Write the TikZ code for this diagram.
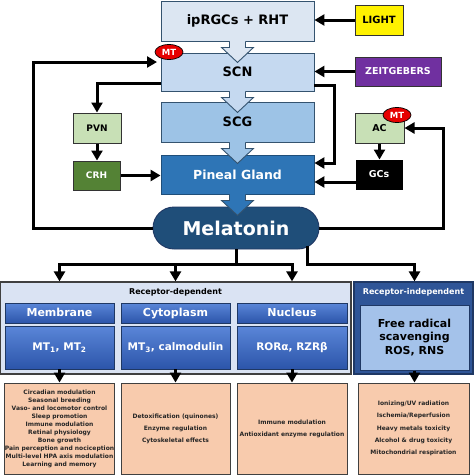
\documentclass[tikz,border=0pt]{standalone}
\usepackage{fontspec}
\setmainfont{DejaVu Sans}
\usetikzlibrary{arrows.meta,calc,shapes.geometric}
\definecolor{ipfill}{HTML}{DCE6F2}
\definecolor{scnfill}{HTML}{C5D9F0}
\definecolor{scgfill}{HTML}{9DC3E6}
\definecolor{pinfill}{HTML}{2E75B6}
\definecolor{melfill}{HTML}{1F4E79}
\definecolor{bxline}{HTML}{34536F}
\definecolor{lgreen}{HTML}{C8E0B6}
\definecolor{dgreen}{HTML}{548235}
\definecolor{mtred}{HTML}{E60000}
\definecolor{zpurple}{HTML}{7030A0}
\definecolor{orfill}{HTML}{F8CBAD}
\definecolor{rdfill}{HTML}{DAE3F3}
\definecolor{rifill}{HTML}{2F5597}
\definecolor{riline}{HTML}{1F3864}
\definecolor{frfill}{HTML}{A4C2EA}
\definecolor{hdtop}{HTML}{5A86D8}
\definecolor{hdbot}{HTML}{2C55AA}
\definecolor{txtdark}{HTML}{262626}
\newcommand\blkarrow[3]{%
  \fill[#2] ($(#1.south)+(-#3,-1)$) -- ($(#1.south)+(-#3,6)$) -- ($(#1.south)+(-16,6)$) -- ($(#1.south)+(0,21)$) -- ($(#1.south)+(16,6)$) -- ($(#1.south)+(#3,6)$) -- ($(#1.south)+(#3,-1)$) -- cycle;
  \draw[bxline,line width=0.9pt,line join=miter] ($(#1.south)+(-#3,0)$) -- ($(#1.south)+(-#3,6)$) -- ($(#1.south)+(-16,6)$) -- ($(#1.south)+(0,21)$) -- ($(#1.south)+(16,6)$) -- ($(#1.south)+(#3,6)$) -- ($(#1.south)+(#3,0)$);}
\begin{document}
\begin{tikzpicture}[x=1pt,y=-1pt,font=\bfseries,
  bx/.style={draw=bxline,line width=0.9pt,inner sep=0pt,align=center},
  conn/.style={line width=3pt,-{Triangle[length=10pt,width=11pt]}},
  plain/.style={line width=3pt},
  mtell/.style={ellipse,draw=black,line width=0.7pt,fill=mtred,text=white,inner sep=0pt,minimum width=28,minimum height=15,font=\bfseries\fontsize{8.5}{8.5}\selectfont},
  hdr/.style={draw=riline,line width=0.8pt,top color=hdtop,bottom color=hdbot,text=white,inner sep=0pt,minimum height=20,text height=8pt,text depth=2pt,font=\bfseries\fontsize{11}{11}\selectfont},
  bdy/.style={draw=riline,line width=0.8pt,top color=hdtop,bottom color=hdbot,text=white,inner sep=0pt,minimum height=43,font=\bfseries\fontsize{10.5}{10.5}\selectfont},
  orbox/.style={draw=black!75,line width=1pt,fill=orfill,text=txtdark,inner sep=0pt,minimum height=91,align=center}]
\useasboundingbox (0,0) rectangle (474,475);
\fill[white] (0,0) rectangle (474,475);
% --- top column
\node[bx,fill=ipfill,minimum width=153,minimum height=40,font=\bfseries\fontsize{13}{13}\selectfont] (ip) at (237.5,21) {ipRGCs + RHT};
\node[bx,fill=scnfill,minimum width=153,minimum height=38,font=\bfseries\fontsize{13}{13}\selectfont] (scn) at (237.5,72) {SCN};
\node[bx,fill=scgfill,minimum width=153,minimum height=40,font=\bfseries\fontsize{13}{13}\selectfont] (scg) at (237.5,122) {SCG};
\node[bx,fill=pinfill,draw=melfill,text=white,minimum width=153,minimum height=39,font=\bfseries\fontsize{12.5}{12.5}\selectfont] (pin) at (237.5,174.5) {Pineal Gland};
\node[bx,fill=melfill,draw=riline,text=white,minimum width=166,minimum height=42,rounded corners=21pt,font=\bfseries\fontsize{19}{19}\selectfont] (mel) at (236,228) {Melatonin};
% --- side boxes
\node[draw=black!80,line width=1pt,fill=yellow,inner sep=0pt,minimum width=48,minimum height=30,font=\bfseries\fontsize{10}{10}\selectfont] (light) at (379,20) {LIGHT};
\node[draw=black!80,line width=1pt,fill=zpurple,text=white,inner sep=0pt,minimum width=86,minimum height=29,font=\bfseries\fontsize{9.5}{9.5}\selectfont] (zeit) at (398,71.5) {ZEITGEBERS};
\node[draw=black!80,line width=1pt,fill=lgreen,inner sep=0pt,minimum width=48,minimum height=30,font=\bfseries\fontsize{9}{9}\selectfont] (pvn) at (97,128) {PVN};
\node[draw=black!80,line width=1pt,fill=dgreen,text=white,inner sep=0pt,minimum width=47,minimum height=29,font=\bfseries\fontsize{9}{9}\selectfont] (crh) at (96.5,175.5) {CRH};
\node[draw=black!80,line width=1pt,fill=lgreen,inner sep=0pt,minimum width=49,minimum height=30,font=\bfseries\fontsize{9.5}{9.5}\selectfont] (ac) at (379.5,128) {AC};
\node[draw=black,line width=1pt,fill=black,text=white,inner sep=0pt,minimum width=46,minimum height=29,font=\bfseries\fontsize{9.5}{9.5}\selectfont] (gcs) at (379,174.5) {GCs};
% --- block arrows
\blkarrow{ip}{ipfill}{8}
\blkarrow{scn}{scnfill}{8}
\blkarrow{scg}{scgfill}{8}
\blkarrow{pin}{pinfill}{8}
% --- MT badges
\node[mtell] (mt1) at (169,52) {MT};
\node[mtell] (mt2) at (397,115) {MT};
% --- connectors
\draw[conn] (light.west) -- (light.west -| ip.east);
\draw[conn] (zeit.west) -- (zeit.west -| scn.east);
\coordinate (lc) at (33,62);
\coordinate (lt) at (157,62);
\draw[conn] (mel.west) -| (lc) -- (lt);
\draw[conn] ($(scn.west)+(0,11)$) -| (pvn.north);
\draw[conn] (pvn.south) -- (pvn.south |- crh.north);
\draw[conn] (crh.east) -- (crh.east -| pin.west);
\coordinate (sr) at ($(scn.east)+(20,13)$);
\coordinate (pr) at ($(pin.east)+(0,-11.5)$);
\draw[conn] ($(scn.east)+(0,13)$) -- (sr) |- (pr);
\draw[conn] (ac.south) -- (ac.south |- gcs.north);
\coordinate (gw) at ($(gcs.west)+(0,7.5)$);
\draw[conn] (gw) -- (gw -| pin.east);
\coordinate (rc) at (443,128);
\draw[conn] (mel.east) -| (rc) -- (ac.east);
% --- panels
\node[draw=black!75,line width=1.2pt,fill=rdfill,inner sep=0pt,minimum width=351,minimum height=92] (rd) at (175.5,328) {};
\node[font=\bfseries\fontsize{8}{8}\selectfont,inner sep=0pt] (rdt) at (175.5,292) {Receptor-dependent};
\node[draw=riline,line width=1.2pt,fill=rifill,inner sep=0pt,minimum width=119,minimum height=92] (ri) at (413.5,328) {};
\node[font=\bfseries\fontsize{8}{8}\selectfont,text=white,inner sep=0pt] (rit) at (413.5,292) {Receptor-independent};
\node[hdr,minimum width=109] (memh) at (59.5,313) {Membrane};
\node[bdy,minimum width=109] (memb) at (59.5,347.5) {MT\textsubscript{1}, MT\textsubscript{2}};
\node[hdr,minimum width=109] (cyth) at (175.5,313) {Cytoplasm};
\node[bdy,minimum width=109] (cytb) at (175.5,347.5) {MT\textsubscript{3}, calmodulin};
\node[hdr,minimum width=110] (nuch) at (292,313) {Nucleus};
\node[bdy,minimum width=110] (nucb) at (292,347.5) {RORα, RZRβ};
\node[draw=riline,line width=1pt,fill=frfill,inner sep=0pt,minimum width=109,minimum height=65,align=center,font=\bfseries\fontsize{11}{13.7}\selectfont] (fre) at (414.5,337.5) {Free radical\\scavenging\\ROS, RNS};
% --- melatonin to panels
\coordinate (bus) at (236,264);
\draw[plain] (mel.south) -- (bus);
\draw[conn] (bus) -| (memh.north |- rd.north);
\draw[conn] (bus) -- (bus -| cyth.north) -- (cyth.north |- rd.north);
\draw[conn] (bus) -| (nuch.north |- rd.north);
\coordinate (m2) at ($(mel.south)+(71,-3)$);
\coordinate (b2) at (m2 |- bus);
\coordinate (b3) at (fre.north |- ri.north);
\draw[conn] (m2) -- (b2) -| (b3);
% --- effect boxes
\node[orbox,minimum width=109,font=\bfseries\fontsize{6}{8}\selectfont] (o1) at (59.5,428.5) {Circadian modulation\\Seasonal breeding\\Vaso- and locomotor control\\Sleep promotion\\Immune modulation\\Retinal physiology\\Bone growth\\Pain perception and nociception\\Multi-level HPA axis modulation\\Learning and memory};
\node[orbox,minimum width=109,font=\bfseries\fontsize{6}{12}\selectfont] (o2) at (175.5,428.5) {Detoxification (quinones)\\Enzyme regulation\\Cytoskeletal effects};
\node[orbox,minimum width=110,font=\bfseries\fontsize{6}{12}\selectfont] (o3) at (292,428.5) {Immune modulation\\Antioxidant enzyme regulation};
\node[orbox,minimum width=111,font=\bfseries\fontsize{6}{12.2}\selectfont] (o4) at (413.5,428.5) {Ionizing/UV radiation\\Ischemia/Reperfusion\\Heavy metals toxicity\\Alcohol \& drug toxicity\\Mitochondrial respiration};
\draw[conn] (memb.south) -- (o1.north);
\draw[conn] (cytb.south) -- (o2.north);
\draw[conn] (nucb.south) -- (o3.north);
\draw[conn] (fre.south) -- (fre.south |- o4.north);
\end{tikzpicture}
\end{document}
